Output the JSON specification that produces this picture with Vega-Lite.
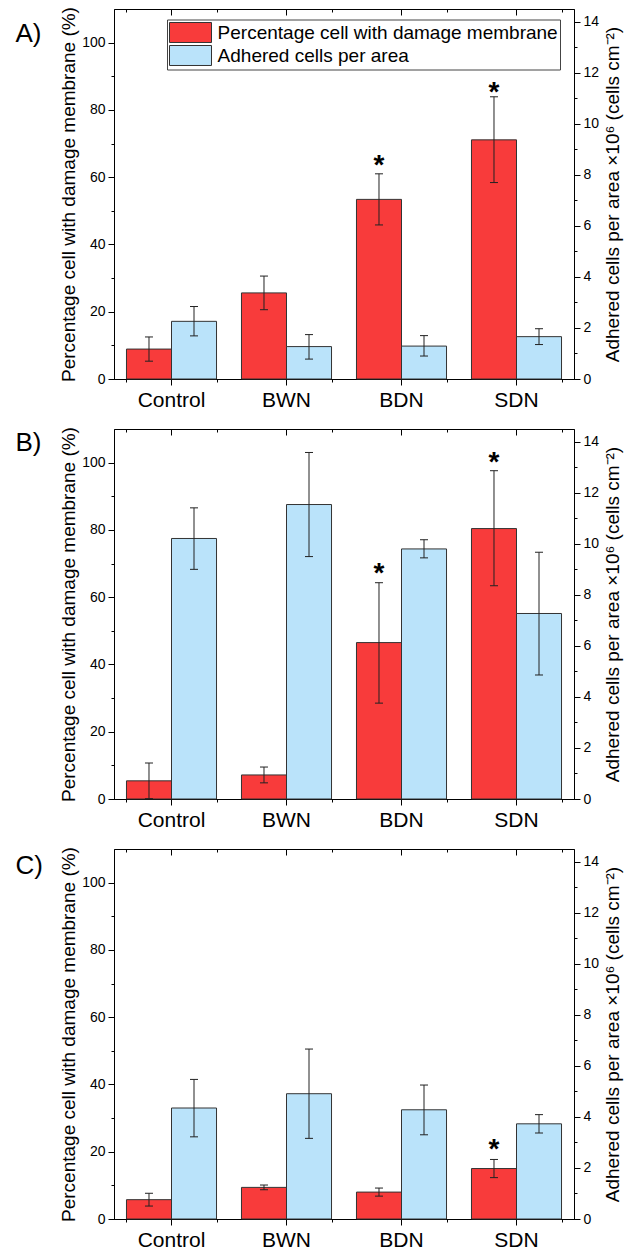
{
  "$schema": "https://vega.github.io/schema/vega-lite/v6.json",
  "padding": {"left": 15, "top": 6, "right": 0, "bottom": 0},
  "spacing": 15,
  "config": {
    "font": "Liberation Sans",
    "view": {"stroke": "black", "strokeWidth": 1},
    "axis": {"labelFont": "Liberation Sans", "titleFont": "Liberation Sans", "labelColor": "black", "titleColor": "black", "tickColor": "black", "domainColor": "black", "titleFontWeight": "normal", "grid": false, "domainWidth": 1, "tickWidth": 1}
  },
  "datasets": {
    "d": [
      {"panel": "A", "cat": "Control", "series": "Percentage cell with damage membrane", "value": 8.9, "lo": 5.3, "hi": 12.5, "star": null},
      {"panel": "A", "cat": "BWN", "series": "Percentage cell with damage membrane", "value": 25.6, "lo": 20.6, "hi": 30.6, "star": null},
      {"panel": "A", "cat": "BDN", "series": "Percentage cell with damage membrane", "value": 53.4, "lo": 45.8, "hi": 61.0, "star": 65.6},
      {"panel": "A", "cat": "SDN", "series": "Percentage cell with damage membrane", "value": 71.1, "lo": 58.4, "hi": 83.9, "star": 87.4},
      {"panel": "A", "cat": "Control", "series": "Adhered cells per area", "value": 2.26, "lo": 1.69, "hi": 2.84, "star": null},
      {"panel": "A", "cat": "BWN", "series": "Adhered cells per area", "value": 1.27, "lo": 0.78, "hi": 1.74, "star": null},
      {"panel": "A", "cat": "BDN", "series": "Adhered cells per area", "value": 1.29, "lo": 0.9, "hi": 1.7, "star": null},
      {"panel": "A", "cat": "SDN", "series": "Adhered cells per area", "value": 1.66, "lo": 1.35, "hi": 1.97, "star": null},
      {"panel": "B", "cat": "Control", "series": "Percentage cell with damage membrane", "value": 5.4, "lo": 0.1, "hi": 10.7, "star": null},
      {"panel": "B", "cat": "BWN", "series": "Percentage cell with damage membrane", "value": 7.15, "lo": 4.8, "hi": 9.5, "star": null},
      {"panel": "B", "cat": "BDN", "series": "Percentage cell with damage membrane", "value": 46.5, "lo": 28.5, "hi": 64.3, "star": 69.2},
      {"panel": "B", "cat": "SDN", "series": "Percentage cell with damage membrane", "value": 80.4, "lo": 63.4, "hi": 97.6, "star": 102.4},
      {"panel": "B", "cat": "Control", "series": "Adhered cells per area", "value": 10.21, "lo": 9.0, "hi": 11.41, "star": null},
      {"panel": "B", "cat": "BWN", "series": "Adhered cells per area", "value": 11.54, "lo": 9.5, "hi": 13.58, "star": null},
      {"panel": "B", "cat": "BDN", "series": "Adhered cells per area", "value": 9.8, "lo": 9.45, "hi": 10.16, "star": null},
      {"panel": "B", "cat": "SDN", "series": "Adhered cells per area", "value": 7.27, "lo": 4.86, "hi": 9.67, "star": null},
      {"panel": "C", "cat": "Control", "series": "Percentage cell with damage membrane", "value": 5.75, "lo": 3.85, "hi": 7.65, "star": null},
      {"panel": "C", "cat": "BWN", "series": "Percentage cell with damage membrane", "value": 9.4, "lo": 8.7, "hi": 10.1, "star": null},
      {"panel": "C", "cat": "BDN", "series": "Percentage cell with damage membrane", "value": 8.0, "lo": 6.8, "hi": 9.2, "star": null},
      {"panel": "C", "cat": "SDN", "series": "Percentage cell with damage membrane", "value": 15.0, "lo": 12.3, "hi": 17.7, "star": 22.9},
      {"panel": "C", "cat": "Control", "series": "Adhered cells per area", "value": 4.35, "lo": 3.22, "hi": 5.47, "star": null},
      {"panel": "C", "cat": "BWN", "series": "Adhered cells per area", "value": 4.91, "lo": 3.16, "hi": 6.66, "star": null},
      {"panel": "C", "cat": "BDN", "series": "Adhered cells per area", "value": 4.28, "lo": 3.3, "hi": 5.25, "star": null},
      {"panel": "C", "cat": "SDN", "series": "Adhered cells per area", "value": 3.73, "lo": 3.37, "hi": 4.09, "star": null}
    ]
  },
  "vconcat": [
    {
      "title": {"text": "A)", "anchor": "start", "frame": "group", "orient": "top", "fontSize": 26, "font": "Liberation Sans", "fontWeight": "normal", "color": "black", "baseline": "top", "offset": -40.5, "dx": -98.5},
      "width": 460, "height": 370,
      "data": {"name": "d"},
      "transform": [{"filter": "datum.panel === 'A'"}],
      "resolve": {"scale": {"x": "independent", "y": "independent", "xOffset": "independent"}},
      "layer": [
        {
          "transform": [{"filter": "datum.series === 'Percentage cell with damage membrane'"}],
          "mark": {"type": "bar", "stroke": "#333333", "strokeWidth": 1},
          "encoding": {
            "x": {"field": "cat", "type": "nominal", "scale": {"type": "band", "domain": ["Control", "BWN", "BDN", "SDN"], "paddingInner": 0.217, "paddingOuter": 0.1085}, "axis": {"orient": "bottom", "title": null, "labelAngle": 0, "labelFontSize": 21, "tickSize": 6, "labelPadding": 4}},
            "xOffset": {"field": "series", "type": "nominal", "scale": {"type": "band", "domain": ["Percentage cell with damage membrane", "Adhered cells per area"], "paddingInner": 0, "paddingOuter": 0}},
            "y": {"field": "value", "type": "quantitative", "scale": {"domain": [0, 110], "nice": false}, "axis": {"orient": "left", "values": [0, 20, 40, 60, 80, 100], "title": "Percentage cell with damage membrane (%)", "titleFontSize": 19, "labelFontSize": 14, "tickSize": 6, "labelPadding": 3, "titlePadding": 3.5}},
            "color": {"field": "series", "type": "nominal", "scale": {"domain": ["Percentage cell with damage membrane", "Adhered cells per area"], "range": ["#F83B3B", "#BAE3FA"]}, "legend": {"title": null, "orient": "none", "legendX": 53, "legendY": 10.5, "symbolType": "M-1,-0.952H3V0.952H-1Z", "symbolSize": 441, "symbolStrokeColor": "#333333", "symbolStrokeWidth": 1, "symbolOpacity": 1, "labelFontSize": 19, "labelFont": "Liberation Sans", "labelColor": "black", "labelLimit": 500, "labelOffset": 26.6, "padding": 2, "strokeColor": "#444444", "fillColor": "white", "rowPadding": -1}}
          }
        },
        {
          "transform": [{"filter": "datum.series === 'Adhered cells per area'"}],
          "mark": {"type": "bar", "stroke": "#333333", "strokeWidth": 1},
          "encoding": {
            "x": {"field": "cat", "type": "nominal", "scale": {"type": "band", "domain": ["Control", "BWN", "BDN", "SDN"], "paddingInner": 0.217, "paddingOuter": 0.1085}, "axis": null},
            "xOffset": {"field": "series", "type": "nominal", "scale": {"type": "band", "domain": ["Percentage cell with damage membrane", "Adhered cells per area"], "paddingInner": 0, "paddingOuter": 0}},
            "y": {"field": "value", "type": "quantitative", "scale": {"domain": [0, 14.5], "nice": false}, "axis": {"orient": "right", "values": [0, 2, 4, 6, 8, 10, 12, 14], "title": "Adhered cells per area ×10⁶ (cells cm⁻²)", "titleFontSize": 19, "titleAngle": -90, "titleBaseline": "top", "labelFontSize": 14, "tickSize": 6, "labelPadding": 3, "titlePadding": 5}},
            "color": {"field": "series", "type": "nominal", "scale": {"domain": ["Percentage cell with damage membrane", "Adhered cells per area"], "range": ["#F83B3B", "#BAE3FA"]}}
          }
        },
        {
          "transform": [{"filter": "datum.series === 'Percentage cell with damage membrane'"}],
          "mark": {"type": "rule", "color": "#222222", "strokeWidth": 1},
          "encoding": {
            "x": {"field": "cat", "type": "nominal", "scale": {"type": "band", "domain": ["Control", "BWN", "BDN", "SDN"], "paddingInner": 0.217, "paddingOuter": 0.1085}, "axis": null},
            "xOffset": {"field": "series", "type": "nominal", "scale": {"type": "band", "domain": ["Percentage cell with damage membrane", "Adhered cells per area"], "paddingInner": 0, "paddingOuter": 0}},
            "y": {"field": "lo", "type": "quantitative", "scale": {"domain": [0, 110], "nice": false}, "axis": null},
            "y2": {"field": "hi"}
          }
        },
        {
          "transform": [{"filter": "datum.series === 'Percentage cell with damage membrane'"}, {"fold": ["lo", "hi"], "as": ["end", "ev"]}],
          "mark": {"type": "point", "shape": "M-1,0H1", "size": 64, "filled": false, "stroke": "#222222", "strokeWidth": 1, "opacity": 1},
          "encoding": {
            "x": {"field": "cat", "type": "nominal", "scale": {"type": "band", "domain": ["Control", "BWN", "BDN", "SDN"], "paddingInner": 0.217, "paddingOuter": 0.1085}, "axis": null},
            "xOffset": {"field": "series", "type": "nominal", "scale": {"type": "band", "domain": ["Percentage cell with damage membrane", "Adhered cells per area"], "paddingInner": 0, "paddingOuter": 0}},
            "y": {"field": "ev", "type": "quantitative", "scale": {"domain": [0, 110], "nice": false}, "axis": null}
          }
        },
        {
          "transform": [{"filter": "datum.series === 'Adhered cells per area'"}],
          "mark": {"type": "rule", "color": "#222222", "strokeWidth": 1},
          "encoding": {
            "x": {"field": "cat", "type": "nominal", "scale": {"type": "band", "domain": ["Control", "BWN", "BDN", "SDN"], "paddingInner": 0.217, "paddingOuter": 0.1085}, "axis": null},
            "xOffset": {"field": "series", "type": "nominal", "scale": {"type": "band", "domain": ["Percentage cell with damage membrane", "Adhered cells per area"], "paddingInner": 0, "paddingOuter": 0}},
            "y": {"field": "lo", "type": "quantitative", "scale": {"domain": [0, 14.5], "nice": false}, "axis": null},
            "y2": {"field": "hi"}
          }
        },
        {
          "transform": [{"filter": "datum.series === 'Adhered cells per area'"}, {"fold": ["lo", "hi"], "as": ["end", "ev"]}],
          "mark": {"type": "point", "shape": "M-1,0H1", "size": 64, "filled": false, "stroke": "#222222", "strokeWidth": 1, "opacity": 1},
          "encoding": {
            "x": {"field": "cat", "type": "nominal", "scale": {"type": "band", "domain": ["Control", "BWN", "BDN", "SDN"], "paddingInner": 0.217, "paddingOuter": 0.1085}, "axis": null},
            "xOffset": {"field": "series", "type": "nominal", "scale": {"type": "band", "domain": ["Percentage cell with damage membrane", "Adhered cells per area"], "paddingInner": 0, "paddingOuter": 0}},
            "y": {"field": "ev", "type": "quantitative", "scale": {"domain": [0, 14.5], "nice": false}, "axis": null}
          }
        },
        {
          "transform": [{"filter": "isValid(datum.star)"}],
          "mark": {"type": "text", "text": "*", "fontSize": 28, "fontWeight": "bold", "font": "Liberation Sans", "color": "black", "baseline": "alphabetic", "align": "center", "dy": 16},
          "encoding": {
            "x": {"field": "cat", "type": "nominal", "scale": {"type": "band", "domain": ["Control", "BWN", "BDN", "SDN"], "paddingInner": 0.217, "paddingOuter": 0.1085}, "axis": null},
            "xOffset": {"field": "series", "type": "nominal", "scale": {"type": "band", "domain": ["Percentage cell with damage membrane", "Adhered cells per area"], "paddingInner": 0, "paddingOuter": 0}},
            "y": {"field": "star", "type": "quantitative", "scale": {"domain": [0, 110], "nice": false}, "axis": null}
          }
        },
        {
          "transform": [{"filter": "datum.series === 'Percentage cell with damage membrane'"}],
          "mark": {"type": "point", "opacity": 0},
          "encoding": {
            "x": {"field": "cat", "type": "nominal", "scale": {"type": "band", "domain": ["Control", "BWN", "BDN", "SDN"], "paddingInner": 0.217, "paddingOuter": 0.1085}, "axis": {"orient": "bottom", "title": null, "labels": false, "domain": false, "tickBand": "extent", "tickSize": 3}},
            "y": {"field": "value", "type": "quantitative", "scale": {"domain": [0, 110], "nice": false}, "axis": {"orient": "left", "values": [10, 30, 50, 70, 90], "title": null, "labels": false, "domain": false, "tickSize": 3}}
          }
        },
        {
          "transform": [{"filter": "datum.series === 'Adhered cells per area'"}],
          "mark": {"type": "point", "opacity": 0},
          "encoding": {
            "x": {"field": "cat", "type": "nominal", "scale": {"type": "band", "domain": ["Control", "BWN", "BDN", "SDN"], "paddingInner": 0.217, "paddingOuter": 0.1085}, "axis": {"orient": "top", "title": null, "labels": false, "domain": false, "tickSize": 6, "offset": -6}},
            "y": {"field": "value", "type": "quantitative", "scale": {"domain": [0, 14.5], "nice": false}, "axis": {"orient": "right", "values": [1, 3, 5, 7, 9, 11, 13], "title": null, "labels": false, "domain": false, "tickSize": 3}}
          }
        },
        {
          "transform": [{"filter": "datum.series === 'Percentage cell with damage membrane'"}],
          "mark": {"type": "point", "opacity": 0},
          "encoding": {
            "x": {"field": "cat", "type": "nominal", "scale": {"type": "band", "domain": ["Control", "BWN", "BDN", "SDN"], "paddingInner": 0.217, "paddingOuter": 0.1085}, "axis": {"orient": "top", "title": null, "labels": false, "domain": false, "tickBand": "extent", "tickSize": 3, "offset": -3}},
            "y": {"field": "value", "type": "quantitative", "scale": {"domain": [0, 110], "nice": false}, "axis": null}
          }
        }
      ]
    },
    {
      "title": {"text": "B)", "anchor": "start", "frame": "group", "orient": "top", "fontSize": 26, "font": "Liberation Sans", "fontWeight": "normal", "color": "black", "baseline": "top", "offset": -29.8, "dx": -98.5},
      "width": 460, "height": 370,
      "data": {"name": "d"},
      "transform": [{"filter": "datum.panel === 'B'"}],
      "resolve": {"scale": {"x": "independent", "y": "independent", "xOffset": "independent"}},
      "layer": [
        {
          "transform": [{"filter": "datum.series === 'Percentage cell with damage membrane'"}],
          "mark": {"type": "bar", "stroke": "#333333", "strokeWidth": 1, "fill": "#F83B3B"},
          "encoding": {
            "x": {"field": "cat", "type": "nominal", "scale": {"type": "band", "domain": ["Control", "BWN", "BDN", "SDN"], "paddingInner": 0.217, "paddingOuter": 0.1085}, "axis": {"orient": "bottom", "title": null, "labelAngle": 0, "labelFontSize": 21, "tickSize": 6, "labelPadding": 4}},
            "xOffset": {"field": "series", "type": "nominal", "scale": {"type": "band", "domain": ["Percentage cell with damage membrane", "Adhered cells per area"], "paddingInner": 0, "paddingOuter": 0}},
            "y": {"field": "value", "type": "quantitative", "scale": {"domain": [0, 110], "nice": false}, "axis": {"orient": "left", "values": [0, 20, 40, 60, 80, 100], "title": "Percentage cell with damage membrane (%)", "titleFontSize": 19, "labelFontSize": 14, "tickSize": 6, "labelPadding": 3, "titlePadding": 3.5}}
          }
        },
        {
          "transform": [{"filter": "datum.series === 'Adhered cells per area'"}],
          "mark": {"type": "bar", "stroke": "#333333", "strokeWidth": 1, "fill": "#BAE3FA"},
          "encoding": {
            "x": {"field": "cat", "type": "nominal", "scale": {"type": "band", "domain": ["Control", "BWN", "BDN", "SDN"], "paddingInner": 0.217, "paddingOuter": 0.1085}, "axis": null},
            "xOffset": {"field": "series", "type": "nominal", "scale": {"type": "band", "domain": ["Percentage cell with damage membrane", "Adhered cells per area"], "paddingInner": 0, "paddingOuter": 0}},
            "y": {"field": "value", "type": "quantitative", "scale": {"domain": [0, 14.5], "nice": false}, "axis": {"orient": "right", "values": [0, 2, 4, 6, 8, 10, 12, 14], "title": "Adhered cells per area ×10⁶ (cells cm⁻²)", "titleFontSize": 19, "titleAngle": -90, "titleBaseline": "top", "labelFontSize": 14, "tickSize": 6, "labelPadding": 3, "titlePadding": 5}}
          }
        },
        {
          "transform": [{"filter": "datum.series === 'Percentage cell with damage membrane'"}],
          "mark": {"type": "rule", "color": "#222222", "strokeWidth": 1},
          "encoding": {
            "x": {"field": "cat", "type": "nominal", "scale": {"type": "band", "domain": ["Control", "BWN", "BDN", "SDN"], "paddingInner": 0.217, "paddingOuter": 0.1085}, "axis": null},
            "xOffset": {"field": "series", "type": "nominal", "scale": {"type": "band", "domain": ["Percentage cell with damage membrane", "Adhered cells per area"], "paddingInner": 0, "paddingOuter": 0}},
            "y": {"field": "lo", "type": "quantitative", "scale": {"domain": [0, 110], "nice": false}, "axis": null},
            "y2": {"field": "hi"}
          }
        },
        {
          "transform": [{"filter": "datum.series === 'Percentage cell with damage membrane'"}, {"fold": ["lo", "hi"], "as": ["end", "ev"]}],
          "mark": {"type": "point", "shape": "M-1,0H1", "size": 64, "filled": false, "stroke": "#222222", "strokeWidth": 1, "opacity": 1},
          "encoding": {
            "x": {"field": "cat", "type": "nominal", "scale": {"type": "band", "domain": ["Control", "BWN", "BDN", "SDN"], "paddingInner": 0.217, "paddingOuter": 0.1085}, "axis": null},
            "xOffset": {"field": "series", "type": "nominal", "scale": {"type": "band", "domain": ["Percentage cell with damage membrane", "Adhered cells per area"], "paddingInner": 0, "paddingOuter": 0}},
            "y": {"field": "ev", "type": "quantitative", "scale": {"domain": [0, 110], "nice": false}, "axis": null}
          }
        },
        {
          "transform": [{"filter": "datum.series === 'Adhered cells per area'"}],
          "mark": {"type": "rule", "color": "#222222", "strokeWidth": 1},
          "encoding": {
            "x": {"field": "cat", "type": "nominal", "scale": {"type": "band", "domain": ["Control", "BWN", "BDN", "SDN"], "paddingInner": 0.217, "paddingOuter": 0.1085}, "axis": null},
            "xOffset": {"field": "series", "type": "nominal", "scale": {"type": "band", "domain": ["Percentage cell with damage membrane", "Adhered cells per area"], "paddingInner": 0, "paddingOuter": 0}},
            "y": {"field": "lo", "type": "quantitative", "scale": {"domain": [0, 14.5], "nice": false}, "axis": null},
            "y2": {"field": "hi"}
          }
        },
        {
          "transform": [{"filter": "datum.series === 'Adhered cells per area'"}, {"fold": ["lo", "hi"], "as": ["end", "ev"]}],
          "mark": {"type": "point", "shape": "M-1,0H1", "size": 64, "filled": false, "stroke": "#222222", "strokeWidth": 1, "opacity": 1},
          "encoding": {
            "x": {"field": "cat", "type": "nominal", "scale": {"type": "band", "domain": ["Control", "BWN", "BDN", "SDN"], "paddingInner": 0.217, "paddingOuter": 0.1085}, "axis": null},
            "xOffset": {"field": "series", "type": "nominal", "scale": {"type": "band", "domain": ["Percentage cell with damage membrane", "Adhered cells per area"], "paddingInner": 0, "paddingOuter": 0}},
            "y": {"field": "ev", "type": "quantitative", "scale": {"domain": [0, 14.5], "nice": false}, "axis": null}
          }
        },
        {
          "transform": [{"filter": "isValid(datum.star)"}],
          "mark": {"type": "text", "text": "*", "fontSize": 28, "fontWeight": "bold", "font": "Liberation Sans", "color": "black", "baseline": "alphabetic", "align": "center", "dy": 16},
          "encoding": {
            "x": {"field": "cat", "type": "nominal", "scale": {"type": "band", "domain": ["Control", "BWN", "BDN", "SDN"], "paddingInner": 0.217, "paddingOuter": 0.1085}, "axis": null},
            "xOffset": {"field": "series", "type": "nominal", "scale": {"type": "band", "domain": ["Percentage cell with damage membrane", "Adhered cells per area"], "paddingInner": 0, "paddingOuter": 0}},
            "y": {"field": "star", "type": "quantitative", "scale": {"domain": [0, 110], "nice": false}, "axis": null}
          }
        },
        {
          "transform": [{"filter": "datum.series === 'Percentage cell with damage membrane'"}],
          "mark": {"type": "point", "opacity": 0},
          "encoding": {
            "x": {"field": "cat", "type": "nominal", "scale": {"type": "band", "domain": ["Control", "BWN", "BDN", "SDN"], "paddingInner": 0.217, "paddingOuter": 0.1085}, "axis": {"orient": "bottom", "title": null, "labels": false, "domain": false, "tickBand": "extent", "tickSize": 3}},
            "y": {"field": "value", "type": "quantitative", "scale": {"domain": [0, 110], "nice": false}, "axis": {"orient": "left", "values": [10, 30, 50, 70, 90], "title": null, "labels": false, "domain": false, "tickSize": 3}}
          }
        },
        {
          "transform": [{"filter": "datum.series === 'Adhered cells per area'"}],
          "mark": {"type": "point", "opacity": 0},
          "encoding": {
            "x": {"field": "cat", "type": "nominal", "scale": {"type": "band", "domain": ["Control", "BWN", "BDN", "SDN"], "paddingInner": 0.217, "paddingOuter": 0.1085}, "axis": {"orient": "top", "title": null, "labels": false, "domain": false, "tickSize": 6, "offset": -6}},
            "y": {"field": "value", "type": "quantitative", "scale": {"domain": [0, 14.5], "nice": false}, "axis": {"orient": "right", "values": [1, 3, 5, 7, 9, 11, 13], "title": null, "labels": false, "domain": false, "tickSize": 3}}
          }
        },
        {
          "transform": [{"filter": "datum.series === 'Percentage cell with damage membrane'"}],
          "mark": {"type": "point", "opacity": 0},
          "encoding": {
            "x": {"field": "cat", "type": "nominal", "scale": {"type": "band", "domain": ["Control", "BWN", "BDN", "SDN"], "paddingInner": 0.217, "paddingOuter": 0.1085}, "axis": {"orient": "top", "title": null, "labels": false, "domain": false, "tickBand": "extent", "tickSize": 3, "offset": -3}},
            "y": {"field": "value", "type": "quantitative", "scale": {"domain": [0, 110], "nice": false}, "axis": null}
          }
        }
      ]
    },
    {
      "title": {"text": "C)", "anchor": "start", "frame": "group", "orient": "top", "fontSize": 26, "font": "Liberation Sans", "fontWeight": "normal", "color": "black", "baseline": "top", "offset": -32.4, "dx": -98.5},
      "width": 460, "height": 370,
      "data": {"name": "d"},
      "transform": [{"filter": "datum.panel === 'C'"}],
      "resolve": {"scale": {"x": "independent", "y": "independent", "xOffset": "independent"}},
      "layer": [
        {
          "transform": [{"filter": "datum.series === 'Percentage cell with damage membrane'"}],
          "mark": {"type": "bar", "stroke": "#333333", "strokeWidth": 1, "fill": "#F83B3B"},
          "encoding": {
            "x": {"field": "cat", "type": "nominal", "scale": {"type": "band", "domain": ["Control", "BWN", "BDN", "SDN"], "paddingInner": 0.217, "paddingOuter": 0.1085}, "axis": {"orient": "bottom", "title": null, "labelAngle": 0, "labelFontSize": 21, "tickSize": 6, "labelPadding": 4}},
            "xOffset": {"field": "series", "type": "nominal", "scale": {"type": "band", "domain": ["Percentage cell with damage membrane", "Adhered cells per area"], "paddingInner": 0, "paddingOuter": 0}},
            "y": {"field": "value", "type": "quantitative", "scale": {"domain": [0, 110], "nice": false}, "axis": {"orient": "left", "values": [0, 20, 40, 60, 80, 100], "title": "Percentage cell with damage membrane (%)", "titleFontSize": 19, "labelFontSize": 14, "tickSize": 6, "labelPadding": 3, "titlePadding": 3.5}}
          }
        },
        {
          "transform": [{"filter": "datum.series === 'Adhered cells per area'"}],
          "mark": {"type": "bar", "stroke": "#333333", "strokeWidth": 1, "fill": "#BAE3FA"},
          "encoding": {
            "x": {"field": "cat", "type": "nominal", "scale": {"type": "band", "domain": ["Control", "BWN", "BDN", "SDN"], "paddingInner": 0.217, "paddingOuter": 0.1085}, "axis": null},
            "xOffset": {"field": "series", "type": "nominal", "scale": {"type": "band", "domain": ["Percentage cell with damage membrane", "Adhered cells per area"], "paddingInner": 0, "paddingOuter": 0}},
            "y": {"field": "value", "type": "quantitative", "scale": {"domain": [0, 14.5], "nice": false}, "axis": {"orient": "right", "values": [0, 2, 4, 6, 8, 10, 12, 14], "title": "Adhered cells per area ×10⁶ (cells cm⁻²)", "titleFontSize": 19, "titleAngle": -90, "titleBaseline": "top", "labelFontSize": 14, "tickSize": 6, "labelPadding": 3, "titlePadding": 5}}
          }
        },
        {
          "transform": [{"filter": "datum.series === 'Percentage cell with damage membrane'"}],
          "mark": {"type": "rule", "color": "#222222", "strokeWidth": 1},
          "encoding": {
            "x": {"field": "cat", "type": "nominal", "scale": {"type": "band", "domain": ["Control", "BWN", "BDN", "SDN"], "paddingInner": 0.217, "paddingOuter": 0.1085}, "axis": null},
            "xOffset": {"field": "series", "type": "nominal", "scale": {"type": "band", "domain": ["Percentage cell with damage membrane", "Adhered cells per area"], "paddingInner": 0, "paddingOuter": 0}},
            "y": {"field": "lo", "type": "quantitative", "scale": {"domain": [0, 110], "nice": false}, "axis": null},
            "y2": {"field": "hi"}
          }
        },
        {
          "transform": [{"filter": "datum.series === 'Percentage cell with damage membrane'"}, {"fold": ["lo", "hi"], "as": ["end", "ev"]}],
          "mark": {"type": "point", "shape": "M-1,0H1", "size": 64, "filled": false, "stroke": "#222222", "strokeWidth": 1, "opacity": 1},
          "encoding": {
            "x": {"field": "cat", "type": "nominal", "scale": {"type": "band", "domain": ["Control", "BWN", "BDN", "SDN"], "paddingInner": 0.217, "paddingOuter": 0.1085}, "axis": null},
            "xOffset": {"field": "series", "type": "nominal", "scale": {"type": "band", "domain": ["Percentage cell with damage membrane", "Adhered cells per area"], "paddingInner": 0, "paddingOuter": 0}},
            "y": {"field": "ev", "type": "quantitative", "scale": {"domain": [0, 110], "nice": false}, "axis": null}
          }
        },
        {
          "transform": [{"filter": "datum.series === 'Adhered cells per area'"}],
          "mark": {"type": "rule", "color": "#222222", "strokeWidth": 1},
          "encoding": {
            "x": {"field": "cat", "type": "nominal", "scale": {"type": "band", "domain": ["Control", "BWN", "BDN", "SDN"], "paddingInner": 0.217, "paddingOuter": 0.1085}, "axis": null},
            "xOffset": {"field": "series", "type": "nominal", "scale": {"type": "band", "domain": ["Percentage cell with damage membrane", "Adhered cells per area"], "paddingInner": 0, "paddingOuter": 0}},
            "y": {"field": "lo", "type": "quantitative", "scale": {"domain": [0, 14.5], "nice": false}, "axis": null},
            "y2": {"field": "hi"}
          }
        },
        {
          "transform": [{"filter": "datum.series === 'Adhered cells per area'"}, {"fold": ["lo", "hi"], "as": ["end", "ev"]}],
          "mark": {"type": "point", "shape": "M-1,0H1", "size": 64, "filled": false, "stroke": "#222222", "strokeWidth": 1, "opacity": 1},
          "encoding": {
            "x": {"field": "cat", "type": "nominal", "scale": {"type": "band", "domain": ["Control", "BWN", "BDN", "SDN"], "paddingInner": 0.217, "paddingOuter": 0.1085}, "axis": null},
            "xOffset": {"field": "series", "type": "nominal", "scale": {"type": "band", "domain": ["Percentage cell with damage membrane", "Adhered cells per area"], "paddingInner": 0, "paddingOuter": 0}},
            "y": {"field": "ev", "type": "quantitative", "scale": {"domain": [0, 14.5], "nice": false}, "axis": null}
          }
        },
        {
          "transform": [{"filter": "isValid(datum.star)"}],
          "mark": {"type": "text", "text": "*", "fontSize": 28, "fontWeight": "bold", "font": "Liberation Sans", "color": "black", "baseline": "alphabetic", "align": "center", "dy": 16},
          "encoding": {
            "x": {"field": "cat", "type": "nominal", "scale": {"type": "band", "domain": ["Control", "BWN", "BDN", "SDN"], "paddingInner": 0.217, "paddingOuter": 0.1085}, "axis": null},
            "xOffset": {"field": "series", "type": "nominal", "scale": {"type": "band", "domain": ["Percentage cell with damage membrane", "Adhered cells per area"], "paddingInner": 0, "paddingOuter": 0}},
            "y": {"field": "star", "type": "quantitative", "scale": {"domain": [0, 110], "nice": false}, "axis": null}
          }
        },
        {
          "transform": [{"filter": "datum.series === 'Percentage cell with damage membrane'"}],
          "mark": {"type": "point", "opacity": 0},
          "encoding": {
            "x": {"field": "cat", "type": "nominal", "scale": {"type": "band", "domain": ["Control", "BWN", "BDN", "SDN"], "paddingInner": 0.217, "paddingOuter": 0.1085}, "axis": {"orient": "bottom", "title": null, "labels": false, "domain": false, "tickBand": "extent", "tickSize": 3}},
            "y": {"field": "value", "type": "quantitative", "scale": {"domain": [0, 110], "nice": false}, "axis": {"orient": "left", "values": [10, 30, 50, 70, 90], "title": null, "labels": false, "domain": false, "tickSize": 3}}
          }
        },
        {
          "transform": [{"filter": "datum.series === 'Adhered cells per area'"}],
          "mark": {"type": "point", "opacity": 0},
          "encoding": {
            "x": {"field": "cat", "type": "nominal", "scale": {"type": "band", "domain": ["Control", "BWN", "BDN", "SDN"], "paddingInner": 0.217, "paddingOuter": 0.1085}, "axis": {"orient": "top", "title": null, "labels": false, "domain": false, "tickSize": 6, "offset": -6}},
            "y": {"field": "value", "type": "quantitative", "scale": {"domain": [0, 14.5], "nice": false}, "axis": {"orient": "right", "values": [1, 3, 5, 7, 9, 11, 13], "title": null, "labels": false, "domain": false, "tickSize": 3}}
          }
        },
        {
          "transform": [{"filter": "datum.series === 'Percentage cell with damage membrane'"}],
          "mark": {"type": "point", "opacity": 0},
          "encoding": {
            "x": {"field": "cat", "type": "nominal", "scale": {"type": "band", "domain": ["Control", "BWN", "BDN", "SDN"], "paddingInner": 0.217, "paddingOuter": 0.1085}, "axis": {"orient": "top", "title": null, "labels": false, "domain": false, "tickBand": "extent", "tickSize": 3, "offset": -3}},
            "y": {"field": "value", "type": "quantitative", "scale": {"domain": [0, 110], "nice": false}, "axis": null}
          }
        }
      ]
    }
  ]
}
